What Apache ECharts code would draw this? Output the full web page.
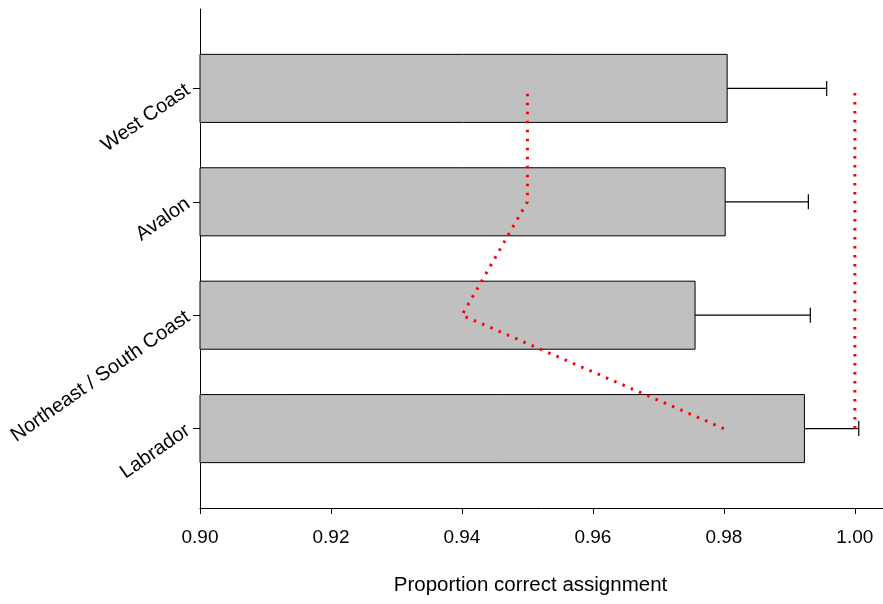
<!DOCTYPE html>
<html>
<head>
<meta charset="utf-8">
<script src="https://cdn.jsdelivr.net/npm/echarts@6/dist/echarts.min.js"></script>
<style>
  html, body { margin: 0; padding: 0; background: #fff; }
  #chart { width: 883px; height: 604px; }
</style>
</head>
<body>
<div id="chart"></div>
<script>
// Regions, bottom to top
const regions = ['Labrador', 'Northeast / South Coast', 'Avalon', 'West Coast'];
// Mean proportion of correct assignment per region
const proportionCorrect = [0.9923, 0.9756, 0.9802, 0.9805];
// Upper end of the error bar per region
const upperError = [1.0006, 0.9932, 0.9929, 0.9957];
// Reference levels (dotted red lines)
const referenceA = [0.98, 0.94, 0.95, 0.95];
const referenceB = [1.00, 1.00, 1.00, 1.00];
// X-axis tick labels
const xTicks = [0.90, 0.92, 0.94, 0.96, 0.98, 1.00];

const positions = regions.map((_, i) => i + 1);
const FONT = "'Liberation Sans', Arial, sans-serif";
const X_MIN = 0.9;

const chart = echarts.init(document.getElementById('chart'));

chart.setOption({
  animation: false,
  backgroundColor: '#ffffff',
  grid: { left: 200, right: 0, top: 9, bottom: 96 },
  xAxis: {
    type: 'value',
    min: X_MIN,
    max: 1.0043,
    name: 'Proportion correct assignment',
    nameLocation: 'middle',
    nameGap: 67,
    // right padding centres the title over the 0.90–1.00 span
    nameTextStyle: { fontFamily: FONT, fontSize: 20.5, color: '#000', padding: [0, 22, 0, 0] },
    axisLine: { show: true, onZero: false, lineStyle: { color: '#000', width: 1 } },
    axisTick: { show: true, length: 6, customValues: xTicks, lineStyle: { color: '#000' } },
    axisLabel: {
      customValues: xTicks,
      margin: 20,
      fontFamily: FONT, fontSize: 19, color: '#000',
      formatter: v => v.toFixed(2)
    },
    splitLine: { show: false }
  },
  yAxis: {
    type: 'value',
    min: 0.3,
    max: 4.7,
    axisLine: { show: true, onZero: false, lineStyle: { color: '#000', width: 1 } },
    axisTick: { show: true, length: 7, customValues: positions, lineStyle: { color: '#000' } },
    axisLabel: {
      customValues: positions,
      rotate: 35,
      margin: 12,
      fontFamily: FONT, fontSize: 20, color: '#000',
      formatter: v => regions[Math.round(v) - 1] || ''
    },
    splitLine: { show: false }
  },
  series: [
    {
      // grey bars
      type: 'custom',
      data: proportionCorrect.map((v, i) => [v, positions[i]]),
      encode: { x: 0, y: 1 },
      renderItem: (params, api) => {
        const y = api.value(1);
        const start = api.coord([X_MIN, y]);
        const end = api.coord([api.value(0), y]);
        const h = api.size([0, 0.6])[1];
        return {
          type: 'rect',
          shape: { x: start[0], y: start[1] - h / 2, width: end[0] - start[0], height: h },
          style: { fill: '#c0c0c0', stroke: '#000', lineWidth: 1 }
        };
      },
      z: 2
    },
    {
      // one-sided error bars
      type: 'custom',
      data: proportionCorrect.map((v, i) => [v, upperError[i], positions[i]]),
      encode: { x: [0, 1], y: 2 },
      renderItem: (params, api) => {
        const y = api.value(2);
        const a = api.coord([api.value(0), y]);
        const b = api.coord([api.value(1), y]);
        const cap = 7.5;
        return {
          type: 'group',
          children: [
            { type: 'line', shape: { x1: a[0], y1: a[1], x2: b[0], y2: b[1] },
              style: { stroke: '#000', lineWidth: 1.2 } },
            { type: 'line', shape: { x1: b[0], y1: b[1] - cap, x2: b[0], y2: b[1] + cap },
              style: { stroke: '#000', lineWidth: 1.2 } }
          ]
        };
      },
      z: 3
    },
    {
      type: 'line',
      data: referenceA.map((v, i) => [v, positions[i]]),
      symbol: 'none',
      lineStyle: { color: '#ff0000', width: 3, type: [2.5, 6.5] },
      z: 4
    },
    {
      type: 'line',
      data: referenceB.map((v, i) => [v, positions[i]]),
      symbol: 'none',
      lineStyle: { color: '#ff0000', width: 3, type: [2.5, 6.5] },
      z: 4
    }
  ]
});
</script>
</body>
</html>
